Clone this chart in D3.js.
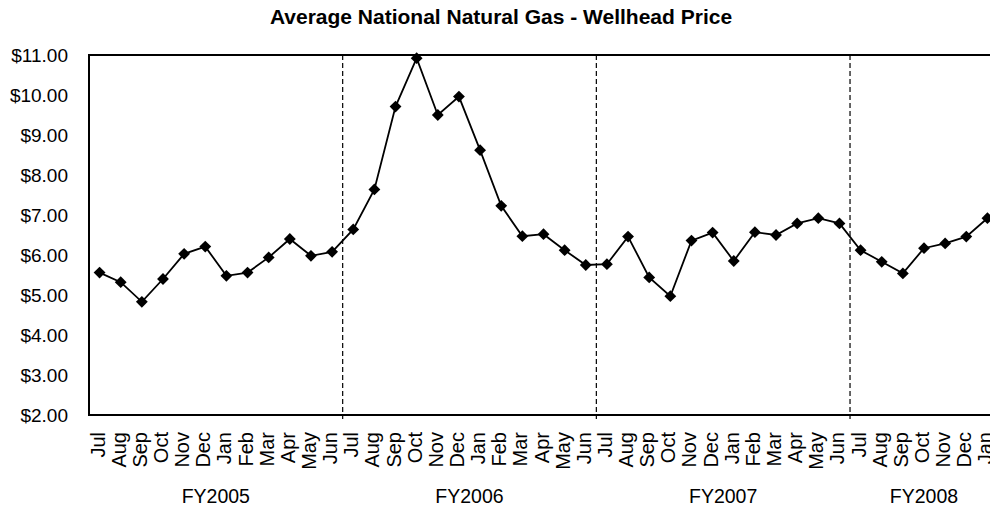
<!DOCTYPE html>
<html>
<head>
<meta charset="utf-8">
<script src="https://cdn.jsdelivr.net/npm/d3@7"></script>
<style>
  body { margin: 0; background: #fff; }
  svg { display: block; }
  text { font-family: "Liberation Sans", Arial, sans-serif; fill: #000; }
</style>
</head>
<body>
<div id="chart"></div>
<script>
// Month labels for each point (Jul 2004 .. Jan 2008)
const months = [
  "Jul","Aug","Sep","Oct","Nov","Dec","Jan","Feb","Mar","Apr","May","Jun",
  "Jul","Aug","Sep","Oct","Nov","Dec","Jan","Feb","Mar","Apr","May","Jun",
  "Jul","Aug","Sep","Oct","Nov","Dec","Jan","Feb","Mar","Apr","May","Jun",
  "Jul","Aug","Sep","Oct","Nov","Dec","Jan"
];

// Fiscal year groups and how many months each covers
const fiscalYears = ["FY2005", "FY2006", "FY2007", "FY2008"];
const monthsPerYear = [12, 12, 12, 7];

// Wellhead price, $ per Mcf
const prices = [
  5.56, 5.32, 4.83, 5.40, 6.03, 6.21, 5.48, 5.56, 5.94, 6.40, 5.98, 6.08,
  6.64, 7.64, 9.71, 10.92, 9.50, 9.96, 8.62, 7.23, 6.47, 6.52, 6.12, 5.75,
  5.77, 6.46, 5.44, 4.97, 6.36, 6.56, 5.85, 6.57, 6.50, 6.79, 6.92, 6.79,
  6.12, 5.83, 5.54, 6.17, 6.29, 6.46, 6.92
];

const yTicks = [2, 3, 4, 5, 6, 7, 8, 9, 10, 11];

const width = 990, height = 509;
const margin = { top: 55, right: -8, bottom: 94, left: 89 };

const svg = d3.select('#chart').append('svg')
  .attr('width', width)
  .attr('height', height);

const x = d3.scaleBand()
  .domain(d3.range(months.length))
  .range([margin.left, width - margin.right])
  .padding(0);

const y = d3.scaleLinear()
  .domain([2, 11])
  .range([height - margin.bottom, margin.top]);

// Title
svg.append('text')
  .attr('x', 501)
  .attr('y', 24)
  .attr('text-anchor', 'middle')
  .attr('font-weight', 'bold')
  .attr('font-size', '21px')
  .text('Average National Natural Gas - Wellhead Price');

// Y axis labels
const yAxis = d3.axisLeft(y)
  .tickValues(yTicks)
  .tickFormat(d => '$' + d3.format('.2f')(d))
  .tickSize(0)
  .tickPadding(21);

svg.append('g')
  .attr('transform', `translate(${margin.left},0)`)
  .call(yAxis)
  .call(g => g.select('.domain').remove())
  .selectAll('text')
  .attr('font-size', '19px')
  .attr('font-family', '"Liberation Sans", Arial, sans-serif')
  .attr('dy', '0.35em');

// Fiscal year boundaries (dashed)
let start = 0;
const boundaries = [];
const groups = [];
monthsPerYear.forEach((n, i) => {
  groups.push({ name: fiscalYears[i], x0: x(start), x1: x(start + n - 1) + x.bandwidth() });
  if (i > 0) boundaries.push(x(start));
  start += n;
});

svg.append('g')
  .selectAll('line')
  .data(boundaries)
  .enter()
  .append('line')
  .attr('x1', d => d).attr('x2', d => d)
  .attr('y1', y(11)).attr('y2', y(2) + 4)
  .attr('stroke', '#000')
  .attr('stroke-width', 1.2)
  .attr('stroke-dasharray', '5,3');

// Plot frame: left, bottom, top
const right = width - margin.right;
svg.append('line')
  .attr('x1', margin.left).attr('x2', right)
  .attr('y1', y(11)).attr('y2', y(11))
  .attr('stroke', '#000').attr('stroke-width', 2);
svg.append('line')
  .attr('x1', margin.left).attr('x2', right)
  .attr('y1', y(2)).attr('y2', y(2))
  .attr('stroke', '#000').attr('stroke-width', 2);
svg.append('line')
  .attr('x1', margin.left).attr('x2', margin.left)
  .attr('y1', y(11) - 1).attr('y2', y(2) + 1)
  .attr('stroke', '#000').attr('stroke-width', 2);

// Month labels, rotated
svg.append('g')
  .selectAll('text')
  .data(months)
  .enter()
  .append('text')
  .attr('transform', (d, i) => `translate(${x(i) + x.bandwidth() / 2 + 5},${y(2) + 17}) rotate(-90)`)
  .attr('text-anchor', 'end')
  .attr('font-size', '20px')
  .text(d => d);

// Fiscal year labels
svg.append('g')
  .selectAll('text')
  .data(groups)
  .enter()
  .append('text')
  .attr('x', d => (d.x0 + d.x1) / 2)
  .attr('y', 503)
  .attr('text-anchor', 'middle')
  .attr('font-size', '19.5px')
  .text(d => d.name);

// Price line
const line = d3.line()
  .x((d, i) => x(i) + x.bandwidth() / 2)
  .y(d => y(d));

svg.append('path')
  .datum(prices)
  .attr('fill', 'none')
  .attr('stroke', '#000')
  .attr('stroke-width', 1.8)
  .attr('d', line);

// Diamond markers
svg.append('g')
  .selectAll('path')
  .data(prices)
  .enter()
  .append('path')
  .attr('d', d3.symbol().type(d3.symbolSquare).size(70))
  .attr('transform', (d, i) => `translate(${x(i) + x.bandwidth() / 2},${y(d)}) rotate(45)`)
  .attr('fill', '#000');
</script>
</body>
</html>
